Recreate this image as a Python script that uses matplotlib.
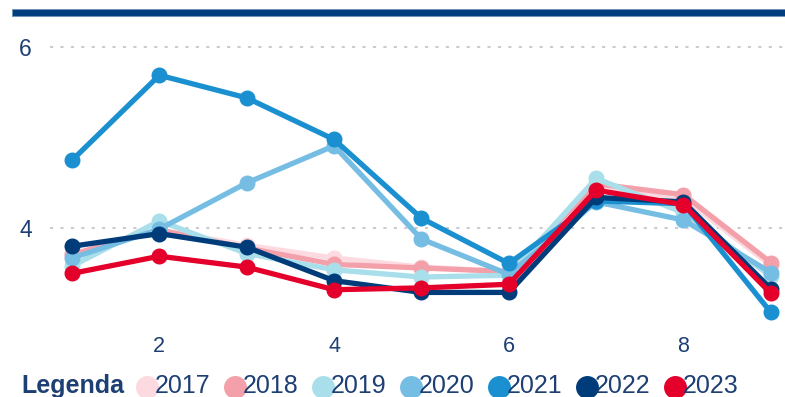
import matplotlib.pyplot as plt
from matplotlib.lines import Line2D
from matplotlib.patches import Rectangle

plt.rcParams['font.family'] = ['Liberation Sans', 'DejaVu Sans']

# === Data ===
x = [1, 2, 3, 4, 5, 6, 7, 8, 9]
years = ['2017', '2018', '2019', '2020', '2021', '2022', '2023']
v2017 = [3.70, 3.98, 3.81, 3.67, 3.57, 3.52, 4.45, 4.33, 3.59]
v2018 = [3.71, 3.98, 3.78, 3.60, 3.56, 3.52, 4.49, 4.37, 3.62]
v2019 = [3.58, 4.08, 3.72, 3.54, 3.46, 3.48, 4.55, 4.17, 3.47]
v2020 = [3.67, 3.99, 4.50, 4.91, 3.88, 3.49, 4.29, 4.09, 3.51]
v2021 = [4.75, 5.69, 5.44, 4.98, 4.11, 3.61, 4.30, 4.27, 3.07]
v2022 = [3.80, 3.94, 3.79, 3.42, 3.29, 3.29, 4.34, 4.29, 3.33]
v2023 = [3.50, 3.69, 3.57, 3.32, 3.34, 3.38, 4.42, 4.26, 3.28]
series = [v2017, v2018, v2019, v2020, v2021, v2022, v2023]
colors = ['#fdd9e0', '#f4a0aa', '#a9dfea', '#76bde4', '#1a90d0', '#003c7a', '#e4002b']

navy = '#1d3f73'

fig = plt.figure(figsize=(7.85, 3.97), dpi=100)
ax = fig.add_axes([50 / 785, 1 - 325 / 397, 735 / 785, 295 / 397])

for vals, c in zip(series, colors):
    ax.plot(x, vals, color=c, lw=3.8, marker='o', ms=10.5,
            solid_joinstyle='round', solid_capstyle='round', clip_on=False)

ax.set_xlim(0.748, 9.162)
ax.set_ylim(2.93, 6.19)
ax.set_xticks([2, 4, 6, 8])
ax.set_yticks([4, 6])
ax.grid(axis='y', color='#cccccc', linestyle=(0, (1.5, 3.5)), linewidth=1.5)
ax.set_axisbelow(True)
for s in ax.spines.values():
    s.set_visible(False)
ax.tick_params(length=0, labelsize=15.5, labelcolor=navy)
ax.tick_params(axis='x', pad=8)
ax.tick_params(axis='y', labelsize=16.5, pad=13)

# header bar
fig.add_artist(Rectangle((12 / 785, 1 - 16 / 397), 1 - 12 / 785, 7 / 397,
                         transform=fig.transFigure, facecolor='#003f7d',
                         edgecolor='#6f93bd', linewidth=0.6))

# legend row along the bottom edge
base = 1 - 393 / 397
fig.text(21 / 785, base, 'Legenda', fontsize=18, fontweight='bold',
         color=navy, va='baseline')
lx = 147
for yr, c in zip(years, colors):
    fig.add_artist(Line2D([lx / 785], [1 - 386.5 / 397], marker='o', ms=15.5,
                          color=c, transform=fig.transFigure, linestyle='none'))
    fig.text((lx + 8) / 785, base, yr, fontsize=18, color=navy, va='baseline')
    lx += 88

plt.savefig('out.png', dpi=100)
